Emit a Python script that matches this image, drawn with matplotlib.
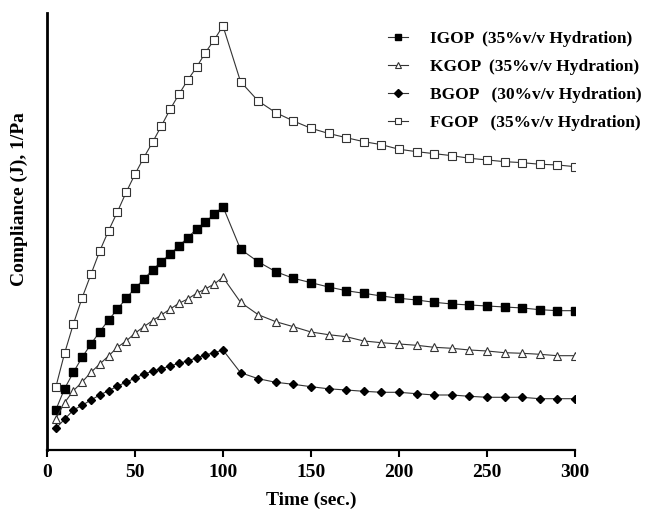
import numpy as np
import matplotlib.pyplot as plt

plt.rcParams['font.family'] = ['Liberation Serif', 'DejaVu Serif']
plt.rcParams['font.weight'] = 'bold'

# time points: every 5 s up to 100 s, then every 10 s
t = list(range(5, 101, 5)) + list(range(110, 301, 10))

# compliance values (arbitrary units)
fgop = [62.7, 96.7, 126, 152.3, 175.7, 199, 219.3, 238, 257.7, 275.7,
        292.3, 307.7, 324, 340.7, 355.7, 370, 382.7, 397.3, 410, 424,
        368.3, 349, 337.3, 329, 321.7, 316.5, 312.3, 308.3, 305.3, 300.7,
        298.3, 296.3, 294.3, 291.7, 290, 288.3, 287.3, 285.7, 285, 283.3]
igop = [40, 61.3, 77.7, 92.7, 106, 118.3, 130, 140.7, 151.7, 161.7,
        170.7, 180, 188.3, 196, 204, 212.3, 221, 228, 235.7, 243.3,
        200.7, 188.2, 178.3, 171.7, 167.3, 163, 159.3, 156.7, 154, 151.7,
        150, 147.7, 146, 145, 144, 143, 142, 140.3, 139.3, 139.3]
kgop = [31.3, 47.3, 59.3, 68, 77.7, 86, 94, 102.7, 109, 116.7,
        123.3, 129.3, 135, 141, 146.7, 151, 156.7, 161, 166, 172.7,
        147.7, 135.3, 128.3, 123.3, 118, 115.3, 113.3, 109, 107.3, 106,
        104.7, 102.7, 101.7, 100, 99, 97.3, 96.7, 95.7, 94.3, 94.3]
bgop = [21.7, 30.7, 40, 44.7, 50, 55, 59.3, 63.7, 68, 71.7,
        76, 78.7, 81.3, 84, 86.7, 89, 92.3, 95, 97.3, 100,
        77.3, 71.3, 67.7, 65.7, 63.3, 61.2, 60, 58.7, 57.7, 57.7,
        56.3, 55, 55, 53.7, 52.7, 52.7, 52.7, 51.3, 51.3, 51.3]

labels = ['IGOP  (35%v/v Hydration)', 'KGOP  (35%v/v Hydration)',
          'BGOP   (30%v/v Hydration)', 'FGOP   (35%v/v Hydration)']

fig = plt.figure(figsize=(6.47, 5.13), dpi=100)
ax = fig.add_axes([0.0726, 0.1228, 0.816, 0.852])

lc = '#333333'
ax.plot(t, igop, color=lc, lw=0.8, marker='s', ms=5.5, mfc='black', mec='black', label=labels[0])
ax.plot(t, kgop, color=lc, lw=0.8, marker='^', ms=5.5, mfc='white', mec=lc, mew=0.8, label=labels[1])
ax.plot(t, bgop, color=lc, lw=0.8, marker='D', ms=4, mfc='black', mec='black', label=labels[2])
ax.plot(t, fgop, color=lc, lw=0.8, marker='s', ms=5.5, mfc='white', mec=lc, mew=0.8, label=labels[3])

ax.set_xlim(0, 300)
ax.set_ylim(0, 437)
ax.set_xticks(np.arange(0, 301, 50))
ax.set_yticks([])
ax.tick_params(axis='x', direction='out', length=5, width=1.5, labelsize=14, pad=5)
for lab in ax.get_xticklabels():
    lab.set_fontweight('bold')

ax.spines['top'].set_visible(False)
ax.spines['right'].set_visible(False)
ax.spines['left'].set_linewidth(2)
ax.spines['bottom'].set_linewidth(1.6)

ax.set_xlabel('Time (sec.)', fontsize=14, fontweight='bold')
ax.xaxis.set_label_coords(0.5, -0.095)
ax.set_ylabel('Compliance (J), 1/Pa', fontsize=14, fontweight='bold')
ax.yaxis.set_label_coords(-0.036, 0.575)

leg = ax.legend(loc='upper left', bbox_to_anchor=(0.646, 0.958), frameon=False,
                prop={'size': 12.5, 'weight': 'bold'}, handlelength=1.15,
                handletextpad=1.25, labelspacing=0.68, borderpad=0,
                borderaxespad=0, markerscale=0.9)

fig.savefig('out.png', dpi=100)
